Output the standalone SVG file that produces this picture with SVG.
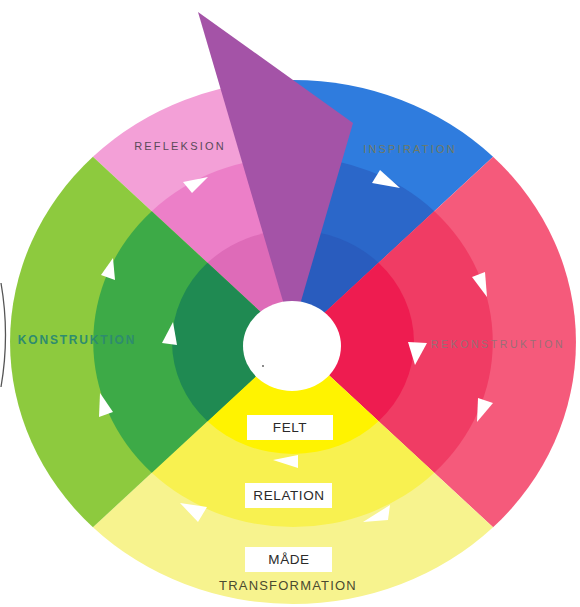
<svg xmlns="http://www.w3.org/2000/svg" width="580" height="607" viewBox="0 0 580 607">
<style>
.lbl{font-family:"Liberation Sans",Arial,sans-serif;text-anchor:middle}
.box{fill:#ffffff}
.boxt{font-family:"Liberation Sans",Arial,sans-serif;font-size:13.5px;fill:#2a2a2a;text-anchor:middle;letter-spacing:0.6px}
.arr{fill:#ffffff}
</style>
<rect width="580" height="607" fill="#ffffff"/>
<path d="M1,283 Q10,335 1,387" fill="none" stroke="#555" stroke-width="1.3"/>
<g transform="translate(293,342) scale(1.08,1)">
  <g id="refleksion">
    <path d="M0,0 L-185.26,-185.26 A262,262 0 0,1 0,-262 Z" fill="#F3A0D7"/>
    <path d="M0,0 L-130.8,-130.8 A185,185 0 0,1 0,-185 Z" fill="#EC7FC8"/>
    <path d="M0,0 L-79.2,-79.2 A112,112 0 0,1 0,-112 Z" fill="#DE6BB8"/>
  </g>
  <g id="inspiration">
    <path d="M0,0 L0,-262 A262,262 0 0,1 185.26,-185.26 Z" fill="#2F7CDE"/>
    <path d="M0,0 L0,-185 A185,185 0 0,1 130.8,-130.8 Z" fill="#2B67C9"/>
    <path d="M0,0 L0,-112 A112,112 0 0,1 79.2,-79.2 Z" fill="#295CBE"/>
  </g>
  <g id="rekonstruktion">
    <path d="M0,0 L185.26,-185.26 A262,262 0 0,1 185.26,185.26 Z" fill="#F55A7B"/>
    <path d="M0,0 L130.8,-130.8 A185,185 0 0,1 130.8,130.8 Z" fill="#F03C64"/>
    <path d="M0,0 L79.2,-79.2 A112,112 0 0,1 79.2,79.2 Z" fill="#EE1C50"/>
  </g>
  <g id="transformation">
    <path d="M0,0 L185.26,185.26 A262,262 0 0,1 -185.26,185.26 Z" fill="#F7F38E"/>
    <path d="M0,0 L130.8,130.8 A185,185 0 0,1 -130.8,130.8 Z" fill="#F8F150"/>
    <path d="M0,0 L79.2,79.2 A112,112 0 0,1 -79.2,79.2 Z" fill="#FFF300"/>
  </g>
  <g id="konstruktion">
    <path d="M0,0 L-185.26,185.26 A262,262 0 0,1 -185.26,-185.26 Z" fill="#8DCA3E"/>
    <path d="M0,0 L-130.8,130.8 A185,185 0 0,1 -130.8,-130.8 Z" fill="#3DAA47"/>
    <path d="M0,0 L-79.2,79.2 A112,112 0 0,1 -79.2,-79.2 Z" fill="#1F8A52"/>
  </g>
</g>
<g id="pointer">
  <polygon points="198,12 353,123 292,332" fill="#A453A7"/>
</g>
<g id="center">
  <ellipse cx="292" cy="346" rx="49" ry="45" fill="#ffffff"/>
  <circle cx="263" cy="366" r="0.9" fill="#555"/>
</g>
<g id="connectors">
  <polygon class="arr" points="183,182 208,177 192,193"/>
  <polygon class="arr" points="380,170 372,183 400,188"/>
  <polygon class="arr" points="472,277 485,272 487,297"/>
  <polygon class="arr" points="408,342 427,343 415,365"/>
  <polygon class="arr" points="478,398 493,403 477,422"/>
  <polygon class="arr" points="390,505 363,522 388,520"/>
  <polygon class="arr" points="298,455 273,460 298,468"/>
  <polygon class="arr" points="180,503 207,507 198,522"/>
  <polygon class="arr" points="100,393 99,417 113,412"/>
  <polygon class="arr" points="173,322 162,343 177,345"/>
  <polygon class="arr" points="113,258 101,275 115,280"/>
</g>
<g id="labels">
  <text class="lbl" x="180" y="150" font-size="11" fill="#5a4a58" letter-spacing="2.2">REFLEKSION</text>
  <text class="lbl" x="410" y="153" font-size="11" fill="#6f7a62" letter-spacing="2.2">INSPIRATION</text>
  <text class="lbl" x="77" y="344" font-size="12" font-weight="bold" fill="#2E8C6E" letter-spacing="1.8">KONSTRUKTION</text>
  <text class="lbl" x="498" y="348" font-size="10.5" fill="#9a6e76" letter-spacing="2.6">REKONSTRUKTION</text>
  <text class="lbl" x="288" y="590" font-size="13" fill="#4a4a30" letter-spacing="1.2">TRANSFORMATION</text>
</g>
<g id="felt">
  <rect class="box" x="247" y="415" width="86" height="25"/>
  <text class="boxt" x="290" y="432">FELT</text>
</g>
<g id="relation">
  <rect class="box" x="245" y="483" width="87" height="25"/>
  <text class="boxt" x="289" y="500">RELATION</text>
</g>
<g id="made">
  <rect class="box" x="245" y="547" width="87" height="25"/>
  <text class="boxt" x="289" y="564">MÅDE</text>
</g>
</svg>
